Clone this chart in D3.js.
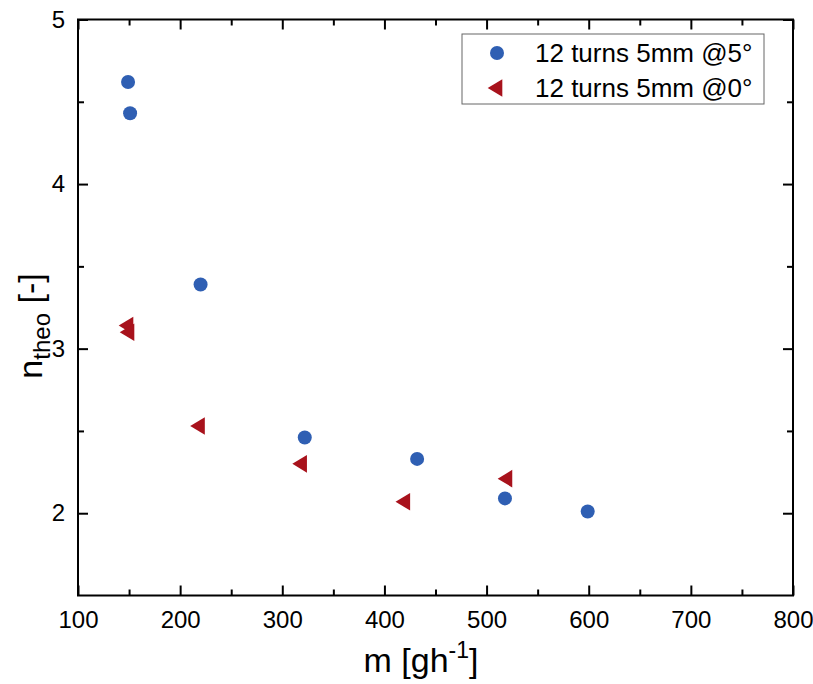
<!DOCTYPE html>
<html>
<head>
<meta charset="utf-8">
<script src="https://cdn.jsdelivr.net/npm/d3@7/dist/d3.min.js"></script>
<style>
  body { margin: 0; background: #fff; }
  svg { font-family: "Liberation Sans", Arial, sans-serif; }
</style>
</head>
<body>
<div id="chart"></div>
<script>
// series
const seriesNames = ['12 turns 5mm @5°', '12 turns 5mm @0°'];
const tiltX = [149, 151, 220, 322, 432, 518, 599];
const tiltY = [4.62, 4.43, 3.39, 2.46, 2.33, 2.09, 2.01];
const flatX = [147, 148, 217, 317, 418, 518];
const flatY = [3.14, 3.10, 2.53, 2.30, 2.07, 2.21];

const xMajor = [100, 200, 300, 400, 500, 600, 700, 800];
const xMinor = [150, 250, 350, 450, 550, 650, 750];
const yMajor = [2, 3, 4, 5];
const yMinor = [2.5, 3.5, 4.5];

const W = 813, H = 684;
const plotL = 78, plotR = 793, plotT = 19.5, plotB = 595.5;
const blue = '#2f5fb3', red = '#a8121c';

const svg = d3.select('#chart').append('svg')
    .attr('width', W)
    .attr('height', H);

const x = d3.scaleLinear().domain([100, 800]).range([plotL, plotR]);
const y = d3.scaleLinear().domain([1.5, 5]).range([plotB, plotT]);
const fmt = d3.format('d');

function styleAxis(g) {
    g.select('.domain').remove();
    g.selectAll('line').attr('stroke', '#000').attr('stroke-width', 2);
    g.selectAll('text').attr('font-size', '24px').attr('fill', '#000');
}

// major ticks + labels (inward)
svg.append('g')
    .attr('transform', `translate(0,${plotB})`)
    .call(d3.axisBottom(x).tickValues(xMajor).tickFormat(fmt).tickSizeInner(-10).tickSizeOuter(0).tickPadding(15))
    .call(styleAxis);
svg.append('g')
    .attr('transform', `translate(${plotL},0)`)
    .call(d3.axisLeft(y).tickValues(yMajor).tickFormat(fmt).tickSizeInner(-10).tickSizeOuter(0).tickPadding(13))
    .call(styleAxis);
svg.append('g')
    .attr('transform', `translate(0,${plotT})`)
    .call(d3.axisTop(x).tickValues(xMajor).tickSizeInner(-10).tickSizeOuter(0).tickFormat(''))
    .call(styleAxis);
svg.append('g')
    .attr('transform', `translate(${plotR},0)`)
    .call(d3.axisRight(y).tickValues(yMajor).tickSizeInner(-10).tickSizeOuter(0).tickFormat(''))
    .call(styleAxis);

// minor ticks
svg.append('g')
    .attr('transform', `translate(0,${plotB})`)
    .call(d3.axisBottom(x).tickValues(xMinor).tickSizeInner(-6).tickSizeOuter(0).tickFormat(''))
    .call(styleAxis);
svg.append('g')
    .attr('transform', `translate(0,${plotT})`)
    .call(d3.axisTop(x).tickValues(xMinor).tickSizeInner(-6).tickSizeOuter(0).tickFormat(''))
    .call(styleAxis);
svg.append('g')
    .attr('transform', `translate(${plotL},0)`)
    .call(d3.axisLeft(y).tickValues(yMinor).tickSizeInner(-6).tickSizeOuter(0).tickFormat(''))
    .call(styleAxis);
svg.append('g')
    .attr('transform', `translate(${plotR},0)`)
    .call(d3.axisRight(y).tickValues(yMinor).tickSizeInner(-6).tickSizeOuter(0).tickFormat(''))
    .call(styleAxis);

// frame
svg.append('rect')
    .attr('x', plotL).attr('y', plotT)
    .attr('width', plotR - plotL).attr('height', plotB - plotT)
    .attr('fill', 'none')
    .attr('stroke', '#000')
    .attr('stroke-width', 2);

const triPath = 'M-7.3,0L7.3,-8.8L7.3,8.8Z';

// points
svg.append('g').selectAll('circle')
    .data(d3.zip(tiltX, tiltY))
    .enter()
    .append('circle')
    .attr('cx', d => x(d[0]))
    .attr('cy', d => y(d[1]))
    .attr('r', 7)
    .attr('fill', blue);

svg.append('g').selectAll('path')
    .data(d3.zip(flatX, flatY))
    .enter()
    .append('path')
    .attr('d', triPath)
    .attr('transform', d => `translate(${x(d[0])},${y(d[1])})`)
    .attr('fill', red);

// axis titles
const xt = svg.append('text')
    .attr('x', 421)
    .attr('y', 672)
    .attr('text-anchor', 'middle')
    .attr('font-size', '34px');
xt.append('tspan').text('m [gh');
xt.append('tspan').attr('font-size', '23px').attr('dy', -14).text('-1');
xt.append('tspan').attr('dy', 14).text(']');

const yt = svg.append('text')
    .attr('transform', 'translate(42,326) rotate(-90)')
    .attr('text-anchor', 'middle')
    .attr('font-size', '34px');
yt.append('tspan').text('n');
yt.append('tspan').attr('font-size', '24px').attr('dy', 8).text('theo');
yt.append('tspan').attr('dy', -8).text(' [-]');

// legend
const legend = svg.append('g').attr('transform', 'translate(462,34)');
legend.append('rect')
    .attr('width', 302).attr('height', 70)
    .attr('fill', '#fff')
    .attr('stroke', '#666')
    .attr('stroke-width', 1);

const items = legend.selectAll('.item')
    .data(seriesNames)
    .enter()
    .append('g')
    .attr('class', 'item')
    .attr('transform', (d, i) => `translate(0,${19 + i * 35})`);

items.filter((d, i) => i === 0).append('circle')
    .attr('cx', 35).attr('cy', 0).attr('r', 7).attr('fill', blue);
items.filter((d, i) => i === 1).append('path')
    .attr('d', triPath)
    .attr('transform', 'translate(33,0)')
    .attr('fill', red);

items.append('text')
    .attr('x', 73)
    .attr('y', 9)
    .attr('font-size', '26px')
    .text(d => d);
</script>
</body>
</html>
